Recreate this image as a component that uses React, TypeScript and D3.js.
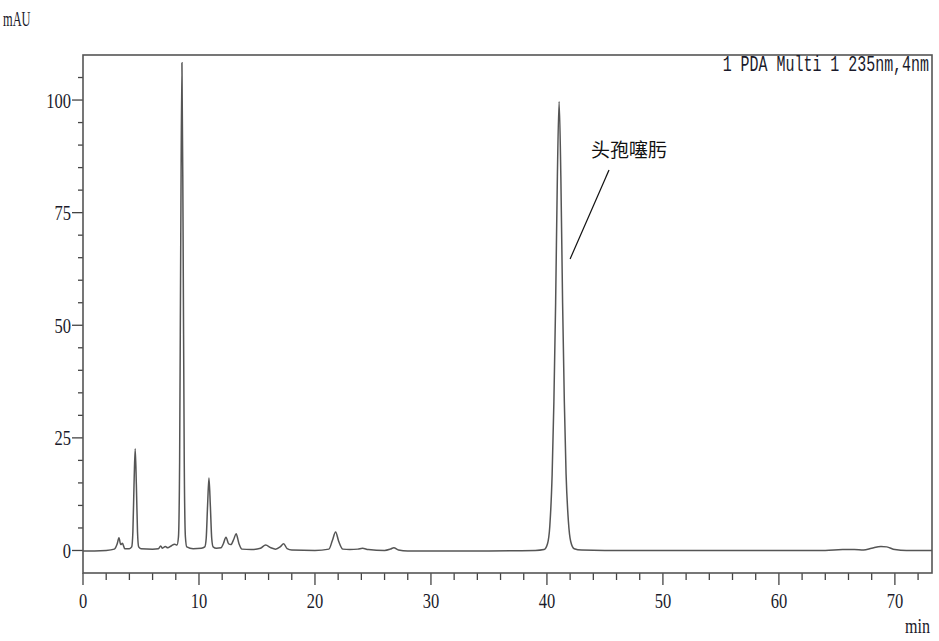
import React from "react";
import * as d3 from "d3";

// Chromatogram trace: retention time (min), signal (mAU)
const times = [
  0, 1, 2, 2.7, 2.95, 3.1, 3.25, 3.4, 3.6, 4.0,
  4.2, 4.3, 4.4, 4.5, 4.6, 4.7, 4.8, 5.0, 6.0, 6.5,
  6.7, 6.85, 7.1, 7.3, 7.6, 7.9, 8.1, 8.23, 8.33, 8.43,
  8.53, 8.63, 8.73, 8.83, 8.95, 9.5, 10.2, 10.5, 10.62, 10.74,
  10.86, 10.98, 11.1, 11.22, 11.5, 11.9, 12.1, 12.33, 12.55, 12.75,
  13.0, 13.2, 13.45, 13.7, 14.5, 15.3, 15.75, 16.2, 16.6, 17.0,
  17.3, 17.6, 18.0, 20.0, 21.2, 21.5, 21.78, 22.05, 22.4, 23.0,
  23.7, 24.1, 24.6, 26.0, 26.5, 26.8, 27.2, 28.0, 35.0, 39.0,
  39.75, 40.05, 40.25, 40.45, 40.6, 40.75, 40.9, 41.05, 41.2, 41.35,
  41.5, 41.65, 41.85, 42.05, 42.35, 43.0, 45.0, 60.0, 64.0, 65.5,
  66.5, 67.3, 68.0, 68.8, 69.3, 70.0, 71.0, 73.2,
];
const signal = [
  -0.1, -0.1, 0, 0.3, 1.5, 2.8, 1.3, 1.6, 0.4, 0.4,
  0.8, 4.1, 14.7, 22.6, 14.7, 4.1, 0.8, 0.4, 0.3, 0.4,
  1.0, 0.5, 0.9, 0.6, 1.0, 1.4, 1.2, 3.0, 19.5, 70,
  108.3, 70, 19.5, 3.0, 0.8, 0.4, 0.5, 0.8, 2.6, 9.9,
  16.1, 9.9, 2.6, 0.8, 0.5, 0.6, 1.5, 2.95, 1.5, 1.3,
  2.5, 3.7, 1.5, 0.3, 0.2, 0.5, 1.2, 0.6, 0.3, 0.8,
  1.5, 0.4, 0.1, 0, 0.3, 2.2, 4.1, 2.0, 0.3, 0.2,
  0.3, 0.5, 0.2, 0, 0.3, 0.6, 0.1, -0.1, -0.1, 0,
  0.2, 1.5, 5.5, 17, 33, 55, 83, 99.7, 83, 55,
  33, 17, 6.5, 2.0, 0.4, 0.1, 0, 0, 0, 0.2,
  0.2, 0.1, 0.5, 0.9, 0.8, 0.2, 0, 0,
];

const xMajorTicks = [0, 10, 20, 30, 40, 50, 60, 70];
const yMajorTicks = [0, 25, 50, 75, 100];
const legendText = "1 PDA Multi 1 235nm,4nm";
const peakLabel = "头孢噻肟";
const peakLabelTime = 41.05;
const yUnit = "mAU";
const xUnit = "min";

const W = 939;
const H = 641;
const M = { left: 83, top: 55, right: 932, bottom: 573 };

export default function App() {
  const x = d3.scaleLinear().domain([0, 73.2]).range([M.left, M.right]);
  const y = d3.scaleLinear().domain([-5, 110]).range([M.bottom, M.top]);

  const pts: [number, number][] = times.map((t, i) => [t, signal[i]]);
  const line = d3
    .line<[number, number]>()
    .x((d) => x(d[0]))
    .y((d) => y(d[1]))
    .curve(d3.curveMonotoneX);

  const xMinor = d3.range(0, 73, 2);
  const yMinor = d3.range(0, 110, 5);

  const serif = "'Liberation Serif', serif";
  const txt = "#1a1a2a";
  const axisColor = "#444";

  return (
    <svg width={W} height={H} style={{ position: "absolute", left: 0, top: 0 }}>
      <rect x={0} y={0} width={W} height={H} fill="#fff" />
      {/* y ticks */}
      {yMinor.map((v) => (
        <line
          key={"ym" + v}
          x1={M.left - (v % 25 === 0 ? 11 : 5)}
          x2={M.left}
          y1={y(v)}
          y2={y(v)}
          stroke={axisColor}
          strokeWidth={1.3}
        />
      ))}
      {yMajorTicks.map((v) => (
        <text
          key={"yl" + v}
          transform={`translate(${M.left - 12},${y(v) + 7.5}) scale(0.75,1)`}
          textAnchor="end"
          fontFamily={serif}
          fontSize={22}
          fill={txt}
        >
          {v}
        </text>
      ))}
      {/* x ticks */}
      {xMinor.map((v) => (
        <line
          key={"xm" + v}
          x1={x(v)}
          x2={x(v)}
          y1={M.bottom}
          y2={M.bottom + (v % 10 === 0 ? 12 : 7)}
          stroke={axisColor}
          strokeWidth={1.3}
        />
      ))}
      {xMajorTicks.map((v) => (
        <text
          key={"xl" + v}
          transform={`translate(${x(v)},${608}) scale(0.75,1)`}
          textAnchor="middle"
          fontFamily={serif}
          fontSize={22}
          fill={txt}
        >
          {v}
        </text>
      ))}
      {/* frame */}
      <rect
        x={M.left}
        y={M.top}
        width={M.right - M.left}
        height={M.bottom - M.top}
        fill="none"
        stroke="#555"
        strokeWidth={1.6}
      />
      {/* trace */}
      <path d={line(pts) || ""} fill="none" stroke="#555" strokeWidth={1.5} />
      {/* legend */}
      <text
        transform={`translate(${929},${71}) scale(0.68,1)`}
        textAnchor="end"
        fontFamily="'Liberation Mono', monospace"
        fontSize={22}
        fill={txt}
      >
        {legendText}
      </text>
      {/* annotation */}
      <line
        x1={609}
        y1={170}
        x2={x(peakLabelTime) + 11}
        y2={259}
        stroke="#111"
        strokeWidth={1.2}
      />
      <text
        x={591}
        y={157}
        fontFamily="'Noto Sans CJK SC', sans-serif"
        fontSize={19}
        fill="#111"
      >
        {peakLabel}
      </text>
      {/* units */}
      <text
        transform={`translate(3,26) scale(0.62,1)`}
        fontFamily={serif}
        fontSize={20}
        fill={txt}
      >
        {yUnit}
      </text>
      <text
        transform={`translate(930,633) scale(0.73,1)`}
        textAnchor="end"
        fontFamily={serif}
        fontSize={22}
        fill={txt}
      >
        {xUnit}
      </text>
    </svg>
  );
}
